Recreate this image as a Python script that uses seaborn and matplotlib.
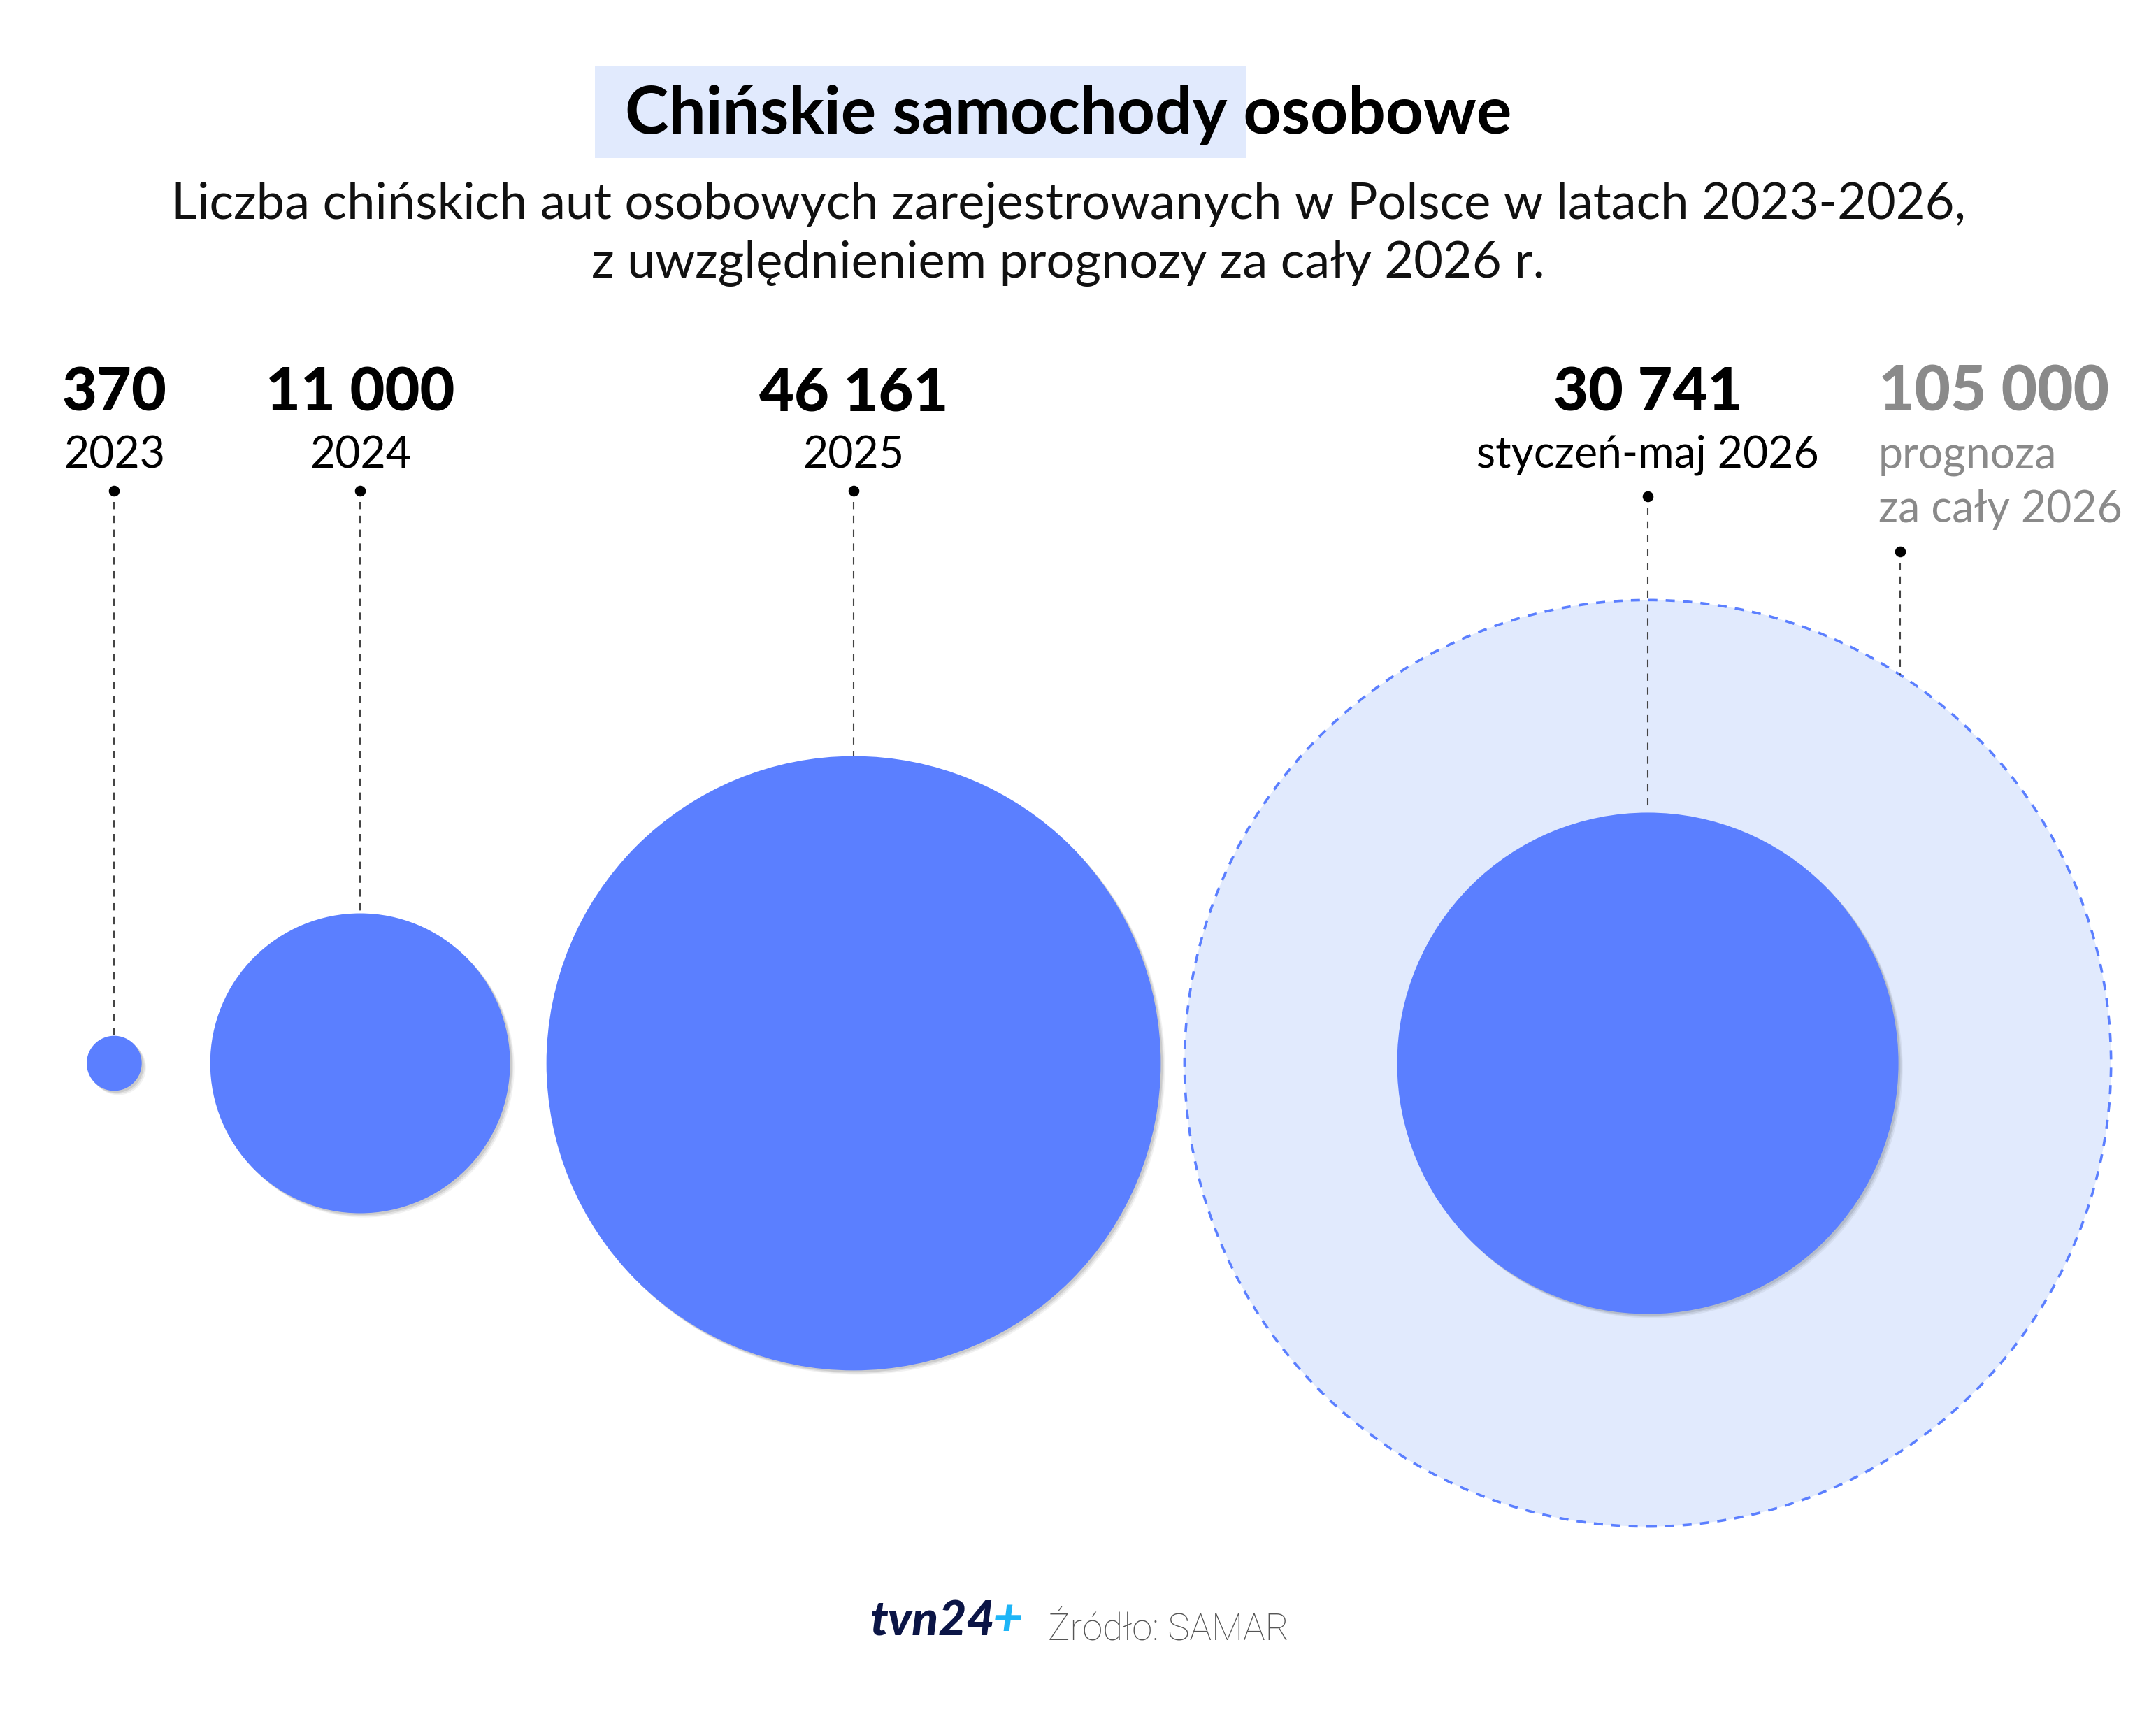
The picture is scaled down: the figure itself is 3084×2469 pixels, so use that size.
import matplotlib
matplotlib.use("Agg")
import matplotlib.pyplot as plt
import matplotlib.patheffects as pe
from matplotlib.patches import Rectangle
import numpy as np
import pandas as pd
import seaborn as sns

# ---------------- data ----------------
periods = ["2023", "2024", "2025", "styczeń-maj 2026", "prognoza\nza cały 2026"]
values = [370, 11000, 46161, 30741, 105000]
value_labels = ["370", "11 000", "46 161", "30 741", "105 000"]
is_forecast = [False, False, False, False, True]

title = "Chińskie samochody osobowe"
title_highlight = "Chińskie samochody"
subtitle_lines = ["Liczba chińskich aut osobowych zarejestrowanych w Polsce w latach 2023-2026,",
                  "z uwzględnieniem prognozy za cały 2026 r."]
source = "Źródło: SAMAR"

# ---------------- layout / style ----------------
W, H, DPI = 3084, 2469, 200
K = 2.045           # radius in px per sqrt(value)
CY = 1521           # vertical centre of bubbles
LEFT = 124          # left edge of first bubble
GAPS = [98, 52, 34] # gaps between consecutive bubbles (jan-may shares centre with forecast)
BLUE = "#5B7FFF"
LIGHT = "#E1EAFD"
GRAY = "#8A8A8A"
FONT = "Lato"

radii = [K * np.sqrt(v) for v in values]
centers = [0.0] * 5
centers[0] = LEFT + radii[0]
centers[1] = centers[0] + radii[0] + GAPS[0] + radii[1]
centers[2] = centers[1] + radii[1] + GAPS[1] + radii[2]
centers[4] = centers[2] + radii[2] + GAPS[2] + radii[4]
centers[3] = centers[4]

df = pd.DataFrame({"period": periods, "value": values, "x": centers,
                   "y": [CY] * 5, "forecast": is_forecast})

vmax = max(values)
smax = (2 * K * np.sqrt(vmax) * 72 / DPI) ** 2

sns.set_theme(style="white")
plt.rcParams["font.family"] = [FONT, "DejaVu Sans"]

fig = plt.figure(figsize=(W / DPI, H / DPI), dpi=DPI)
ax = fig.add_axes([0, 0, 1, 1])
ax.set_xlim(0, W)
ax.set_ylim(H, 0)
ax.axis("off")

# forecast bubble (behind)
sns.scatterplot(data=df[df.forecast], x="x", y="y", size="value",
                sizes=(0, smax), size_norm=(0, vmax), legend=False,
                color=LIGHT, edgecolor=BLUE, linewidth=1.3,
                linestyle=(0, (3.6, 3.3)), ax=ax, zorder=1)

# actual bubbles with soft shadow
shadow = [pe.SimplePatchShadow(offset=(o, -o), shadow_rgbFace="#000000", alpha=a)
          for o, a in [(2.2, 0.05), (1.6, 0.07), (1.0, 0.09)]] + [pe.Normal()]
sns.scatterplot(data=df[~df.forecast], x="x", y="y", size="value",
                sizes=(0, smax), size_norm=(0, vmax), legend=False,
                color=BLUE, edgecolor="none", linewidth=0, ax=ax, zorder=3)
ax.collections[-1].set_path_effects(shadow)

# leader lines + dots
dot_y = [702, 702, 702, 710, 789]
dot_x = list(centers)
dot_x[4] = 2718
for i in range(5):
    if is_forecast[i]:
        dx = dot_x[i] - centers[i]
        end = CY - np.sqrt(radii[i] ** 2 - dx ** 2)
    else:
        end = CY - radii[i]
    ax.plot([dot_x[i], dot_x[i]], [dot_y[i] + 16, end], color="#444444",
            lw=0.75, ls=(0, (5, 4.5)), zorder=2)
    ax.plot([dot_x[i]], [dot_y[i]], "o", color="black", ms=4.6, zorder=4)

# labels
num_base = 588
lab_base = 669
NUM_FS = 31
LAB_FS = 22.5
for i in range(5):
    if is_forecast[i]:
        xl = 2687
        ax.text(xl, num_base, value_labels[i], ha="left", va="baseline",
                fontsize=NUM_FS + 1, fontweight="black", color=GRAY)
        for j, line in enumerate(periods[i].split("\n")):
            ax.text(xl, 671 + 76 * j, line, ha="left", va="baseline",
                    fontsize=LAB_FS, color=GRAY)
    else:
        ax.text(centers[i], num_base, value_labels[i], ha="center", va="baseline",
                fontsize=NUM_FS, fontweight="black", color="black")
        ax.text(centers[i], lab_base, periods[i], ha="center", va="baseline",
                fontsize=LAB_FS, color="black")

# title with highlight box
fig.canvas.draw()
r = fig.canvas.get_renderer()
TFS = 34
t = ax.text(1528, 191, title, ha="center", va="baseline", fontsize=TFS,
            fontweight="bold", color="black", zorder=5)
bb = t.get_window_extent(renderer=r)
tmp = ax.text(0, 0, title_highlight, fontsize=TFS, fontweight="bold")
hw = tmp.get_window_extent(renderer=r).width
tmp.remove()
x_left = bb.x0 * W / fig.bbox.width
hw_data = hw * W / fig.bbox.width
ax.add_patch(Rectangle((x_left - 43, 94), hw_data + 43 + 28, 132,
                       facecolor=LIGHT, edgecolor="none", zorder=0))

ax.text(1528, 313, subtitle_lines[0], ha="center", va="baseline", fontsize=26, color="#111111")
ax.text(1528, 397, subtitle_lines[1], ha="center", va="baseline", fontsize=26, color="#111111")

# footer
lg = ax.text(1245, 2339, "tvn24", ha="left", va="baseline", fontsize=25,
             fontweight="black", fontstyle="italic", color="#0B1546")
lb = lg.get_window_extent(renderer=r)
ax.text(lb.x1 * W / fig.bbox.width - 4, 2339, "+", ha="left", va="baseline", fontsize=27,
        fontweight="black", fontstyle="italic", color="#1DB5F7")
ax.text(1499, 2345, source, ha="left", va="baseline", fontsize=19,
        fontweight="light", color="#555555", family=["Roboto", "DejaVu Sans"])

fig.savefig("out.png", dpi=DPI, facecolor="white")
